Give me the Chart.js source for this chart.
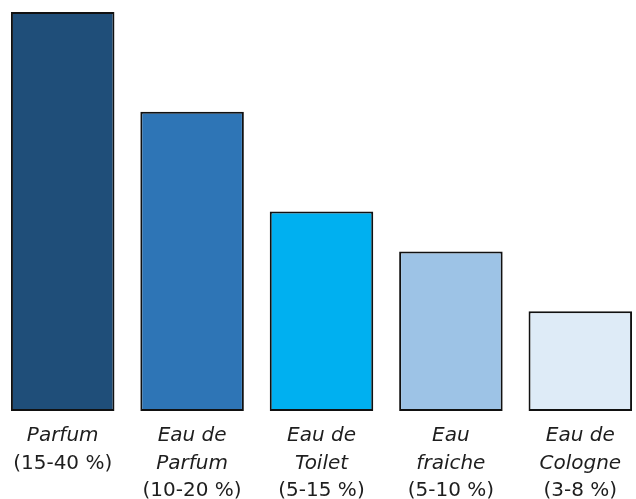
<!DOCTYPE html>
<html lang="fr">
<head>
  <meta charset="UTF-8" />
  <title>Concentration des parfums</title>
  <script src="https://cdn.jsdelivr.net/npm/chart.js"></script>
  <style>
    html, body { margin: 0; padding: 0; background: #fff; overflow: hidden; }
    .wrap { position: absolute; left: -2px; top: 0; width: 647px; height: 499px; }
  </style>
</head>
<body>
  <div class="wrap"><canvas id="perfumeChart"></canvas></div>

  <script>
    // category names (italic lines) and concentration ranges (upright line)
    const names = [["Parfum"], ["Eau de", "Parfum"], ["Eau de", "Toilet"], ["Eau", "fraiche"], ["Eau de", "Cologne"]];
    const ranges = ["(15-40 %)", "(10-20 %)", "(5-15 %)", "(5-10 %)", "(3-8 %)"];
    const values = [40, 30, 20, 16, 10];
    const barColors = ["#1F4E79", "#2E75B6", "#00B0F0", "#9DC3E6", "#DEEBF7"];

    // draws the two-style labels under each bar
    const labelPlugin = {
      id: 'twoStyleLabels',
      afterDraw(chart) {
        const ctx = chart.ctx;
        const x = chart.scales.x;
        const base = chart.chartArea.bottom + 30;
        const lineH = 27.5;
        ctx.save();
        ctx.fillStyle = '#1e1e1e';
        ctx.textAlign = 'center';
        ctx.textBaseline = 'alphabetic';
        names.forEach((lines, i) => {
          const cx = x.getPixelForValue(i);
          ctx.font = 'italic 20px "DejaVu Sans"';
          lines.forEach((t, j) => ctx.fillText(t, cx, base + j * lineH));
          ctx.font = '20px "DejaVu Sans"';
          ctx.fillText(ranges[i], cx, base + lines.length * lineH);
        });
        ctx.restore();
      }
    };

    new Chart(document.getElementById('perfumeChart'), {
      type: 'bar',
      data: {
        labels: names.map(n => n.join(' ')),
        datasets: [{
          data: values,
          backgroundColor: barColors,
          borderColor: '#111',
          borderWidth: 2,
          borderSkipped: false,
          barPercentage: 0.8,
          categoryPercentage: 1
        }]
      },
      options: {
        responsive: true,
        maintainAspectRatio: false,
        animation: false,
        layout: { padding: { top: 12, bottom: 88, left: 0, right: 0 } },
        plugins: { legend: { display: false }, tooltip: { enabled: false } },
        scales: {
          x: { display: false },
          y: { display: false, min: 0, max: 40 }
        }
      },
      plugins: [labelPlugin]
    });
  </script>
</body>
</html>
